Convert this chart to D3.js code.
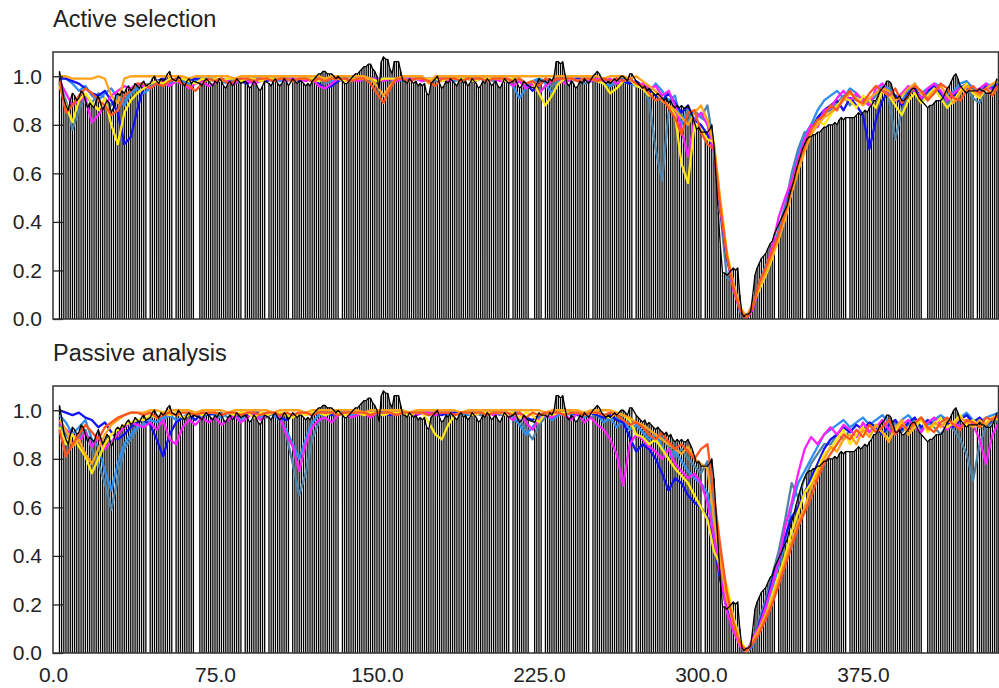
<!DOCTYPE html>
<html>
<head>
<meta charset="utf-8">
<script src="https://cdn.jsdelivr.net/npm/d3@7"></script>
<style>
  body { margin: 0; background: #fff; }
  svg { display: block; }
  text { font-family: "Liberation Sans", Arial, Helvetica, sans-serif; fill: #222; }
</style>
</head>
<body>
<svg id="chart" width="999" height="688"></svg>
<script>
// ---------- data (all values in hundredths) ----------
// reference profile: one value per position, starting at position 3
const profileStart = 3;
const profileValues = [
  102,97,91,88,86,90,93,92,
  90,91,94,93,90,87,89,88,87,90,
  92,89,86,88,90,89,85,87,92,93,
  92,94,93,95,96,94,95,97,96,95,
  97,98,96,95,97,99,100,98,97,99,
  98,99,101,102,99,97,98,100,99,97,
  96,98,99,97,98,100,99,97,96,98,
  99,98,97,96,98,97,99,98,96,95,
  97,98,96,97,99,98,97,96,98,97,
  95,96,98,97,95,94,96,98,99,97,
  96,98,99,97,96,97,99,98,96,97,
  99,98,97,98,98,97,96,97,96,98,
  99,100,101,101,102,102,101,101,101,100,
  99,100,99,98,97,97,98,99,100,101,
  101,102,103,104,104,105,105,103,102,100,
  95,106,108,107,107,103,101,106,106,106,
  102,98,98,97,99,98,97,98,96,97,
  96,97,93,92,97,98,99,100,97,95,
  96,98,97,99,98,97,96,98,99,97,
  98,96,97,99,98,97,95,96,98,97,
  99,98,96,97,98,96,95,97,99,98,
  97,96,98,99,97,95,96,98,97,96,
  98,97,95,97,99,98,96,98,97,99,
  98,100,106,106,105,106,101,97,96,98,
  97,95,96,98,97,99,98,97,99,100,
  101,102,101,99,98,97,98,97,98,99,
  98,99,100,100,99,98,101,101,99,98,
  97,96,95,96,94,95,94,93,92,93,
  92,91,90,91,89,90,88,87,88,87,
  88,87,87,88,86,84,81,78,79,77,
  78,77,77,78,80,72,58,44,30,19,
  19,18,19,20,21,20,21,10,2,1,
  2,2,3,10,18,21,23,25,26,27,
  29,31,32,35,37,39,41,43,45,47,
  51,54,57,61,64,67,70,73,74,75,
  75,76,76,77,77,78,79,79,80,80,
  80,81,80,82,83,82,83,84,83,83,
  83,84,85,84,85,86,85,87,88,90,
  90,92,94,95,96,98,98,97,94,91,
  91,92,90,90,91,92,94,95,95,93,
  91,90,89,88,87,88,88,89,90,90,
  90,91,93,95,96,98,100,101,99,96,
  95,94,93,94,94,94,93,94,95,94,
  94,93,93,93,94,96,99
];
// positions that carry no profile value
const profileGaps = [44,56,66,67,88,99,110,133,212,221,222,227,249,269,301,335,348,368,403,404,427];

// sampled positions of the coloured runs
const runX = d3.range(3, 439, 3);

const runColors = {
  steel: "#4f84a8", dodger: "#2f8ff0", blue: "#1212f5", magenta: "#ff22ff",
  yellow: "#ffe812", orange: "#ffa31a", red: "#ff5520"
};
const drawOrder = ["steel", "dodger", "blue", "magenta", "yellow", "orange", "red"];

// ---- Active selection ----
const activeBlue = [
  99,99,98,97,95,93,92,94,90,85,72,75,86,
  96,97,98,99,98,99,99,98,99,99,98,
  99,98,99,99,98,97,99,99,98,99,99,
  99,99,98,99,99,97,95,96,98,99,99,
  99,99,99,99,98,99,99,99,98,99,99,
  99,99,98,99,99,99,99,98,99,99,99,
  99,98,99,99,97,94,96,99,98,99,99,
  99,99,99,98,99,99,98,99,98,97,98,
  96,94,92,90,93,89,85,88,82,80,76,
  70,45,25,13,4,0,5,
  13,19,26,34,43,56,65,72,78,83,86,
  88,90,86,91,88,84,70,82,90,94,92,88,93,95,91,94,96,93,90,92,95,97,94,92,96,95,97
];
const activeDodger = [
  100,99,97,94,96,92,90,93,95,91,88,93,95,
  93,95,97,98,97,99,98,97,98,99,99,
  99,98,97,99,99,98,99,98,99,99,98,
  99,98,99,99,98,99,99,98,99,99,99,
  99,99,99,98,99,99,99,98,99,99,99,
  98,99,99,99,98,99,99,99,99,98,99,
  99,98,96,91,95,98,99,97,93,97,99,
  99,98,99,99,98,97,96,99,98,97,96,
  95,93,97,94,90,92,80,86,85,83,81,
  72,47,26,14,5,1,6,
  14,21,28,36,46,58,68,76,80,86,90,
  92,94,91,95,93,90,88,93,96,95,92,90,94,97,93,95,97,96,92,94,97,98,95,94,97,96,98
];
const activeSteel = [
  97,90,78,86,92,89,93,91,88,92,90,94,96,
  97,96,98,97,99,98,97,98,99,98,99,
  98,99,98,97,98,99,99,98,99,98,99,
  99,98,99,99,98,99,97,98,99,99,98,
  99,99,98,99,99,99,98,99,99,99,98,
  99,98,99,99,99,98,99,99,99,99,98,
  99,99,98,99,96,97,99,98,96,98,99,
  98,99,97,98,99,98,96,97,99,98,97,
  96,90,70,57,85,88,84,81,86,83,88,
  71,44,17,15,3,0,5,
  15,22,27,37,47,60,70,77,76,82,85,
  86,89,92,88,92,91,89,92,95,91,74,86,92,95,90,93,96,92,88,93,96,95,91,89,95,94,96
];
const activeMagenta = [
  98,93,88,90,91,81,84,88,92,94,96,95,97,
  96,95,97,98,96,98,97,95,97,98,96,
  97,99,98,97,99,98,97,98,99,98,99,
  98,99,99,98,99,96,95,97,99,98,99,
  98,99,99,99,98,99,98,99,99,99,98,
  99,99,99,98,99,99,99,98,99,99,99,
  98,99,96,98,95,97,93,96,98,99,97,
  99,98,99,98,99,98,99,97,98,99,96,
  97,95,96,92,94,88,78,67,82,85,80,
  69,46,27,12,4,0,4,
  14,20,30,42,50,57,66,74,80,79,86,
  87,91,94,90,93,90,88,95,97,92,90,93,96,94,91,95,97,94,90,93,95,96,93,95,97,94,96
];
const activeYellow = [
  96,88,81,90,93,89,86,91,80,72,85,90,93,
  95,97,98,97,99,98,99,98,97,99,98,
  99,98,99,99,98,99,99,98,99,99,99,
  99,98,99,99,99,98,99,99,99,98,99,
  99,99,99,98,99,99,99,99,98,99,99,
  99,99,98,99,99,99,99,98,99,99,99,
  99,98,99,99,97,98,93,88,92,97,99,
  99,98,99,99,98,97,93,95,98,99,96,
  95,92,94,90,88,84,64,56,80,78,74,
  73,48,28,14,5,1,6,
  12,18,25,33,42,53,62,70,77,82,80,
  84,88,91,90,87,92,90,87,94,92,88,84,90,93,89,92,95,91,87,90,94,97,93,91,95,93,96
];
const activeOrange = [
  100,100,99,99,99,99,100,99,92,89,99,100,100,
  100,100,100,100,100,100,100,99,100,100,100,
  100,100,100,99,100,100,100,100,100,100,100,
  100,100,100,100,100,100,99,100,100,100,100,
  100,100,99,96,92,96,99,100,100,100,100,
  97,100,100,100,100,100,100,100,100,100,100,
  100,100,100,100,100,100,100,100,100,100,100,
  100,100,100,100,100,99,100,100,100,99,100,
  98,96,94,90,88,86,83,80,85,88,82,
  72,49,27,15,5,1,6,
  13,19,26,33,41,52,61,69,76,80,83,
  85,87,90,93,91,88,91,93,95,94,90,92,95,97,93,91,94,96,92,89,93,96,94,92,95,97,98
];
const activeRed = [
  98,85,88,92,95,93,90,88,84,86,92,94,97,
  97,95,97,96,98,99,97,96,94,97,99,
  98,99,97,98,99,99,98,99,99,98,99,
  99,98,99,99,98,99,98,99,99,99,98,
  99,99,97,93,89,95,99,99,98,99,99,
  98,96,99,99,99,98,99,99,99,98,99,
  99,99,98,99,97,98,96,99,98,99,99,
  99,98,99,99,98,99,98,99,98,99,97,
  96,93,90,91,87,83,76,85,86,77,72,
  70,46,26,13,4,0,5,
  15,21,28,35,44,54,64,71,78,82,84,
  88,86,91,94,90,89,93,96,94,92,95,89,92,96,94,90,93,97,95,91,90,94,96,93,95,92,97
];

// ---- Passive analysis ----
const passiveBlue = [
  100,99,98,99,97,96,93,95,91,88,90,93,95,
  96,94,88,81,90,95,97,98,96,99,98,
  99,98,99,97,99,98,99,99,98,99,97,
  96,98,99,99,98,99,99,98,99,99,99,
  99,98,99,99,99,98,99,99,99,98,99,
  99,99,98,99,99,99,99,98,99,99,99,
  99,98,99,99,97,96,98,99,97,99,99,
  99,98,99,99,98,97,98,96,95,89,83,
  86,84,80,74,67,72,70,65,62,60,56,
  45,30,18,10,4,0,4,
  12,20,30,38,48,56,60,66,72,78,84,
  88,90,93,91,94,92,95,93,90,94,96,92,95,97,93,96,94,97,95,93,96,98,95,97,94,96,98
];
const passiveDodger = [
  98,95,90,93,96,88,85,75,67,78,86,90,93,
  94,96,95,97,98,96,97,99,98,97,99,
  98,97,99,98,96,99,98,97,99,98,96,
  92,86,80,88,95,98,99,98,99,99,98,
  99,99,98,99,99,98,99,99,99,98,99,
  98,99,99,98,99,99,98,99,99,98,99,
  99,99,97,94,90,93,97,99,96,98,99,
  98,99,97,99,98,95,97,93,96,92,94,
  91,88,90,85,80,83,79,75,72,70,66,
  52,34,20,11,3,0,3,
  10,18,26,36,46,60,70,75,80,85,90,
  92,94,96,93,95,97,94,96,98,95,93,96,98,95,97,94,96,98,96,94,97,99,96,95,97,98,99
];
const passiveSteel = [
  94,90,86,88,92,84,78,70,59,72,84,88,92,
  95,97,98,96,98,99,97,98,99,97,99,
  98,99,97,99,98,99,99,98,97,99,98,
  90,78,65,74,88,95,98,99,98,99,99,
  99,98,99,99,98,99,99,99,98,99,99,
  99,98,99,99,99,98,99,99,98,99,99,
  98,99,98,96,92,88,94,97,99,98,99,
  99,98,99,97,99,98,96,97,94,96,95,
  93,90,87,89,85,81,84,80,77,74,79,
  60,40,24,12,5,1,5,
  14,22,32,42,55,70,64,72,78,82,86,
  86,90,88,92,89,93,91,94,90,92,95,91,94,96,92,95,93,90,94,92,88,82,71,86,93,95,96
];
const passiveMagenta = [
  95,92,90,87,91,85,89,84,87,90,93,95,94,
  93,95,92,96,88,86,93,96,94,97,95,
  97,94,96,98,95,97,99,96,98,99,97,
  90,85,75,86,93,96,97,95,98,99,97,
  98,99,97,99,98,99,98,99,99,98,99,
  99,98,99,99,98,99,99,98,99,99,98,
  99,98,96,99,95,92,96,98,97,99,98,
  96,99,95,97,94,92,88,82,69,86,90,
  88,85,83,80,84,78,75,72,74,70,62,
  48,32,17,9,3,0,6,
  11,19,28,38,52,62,74,84,89,86,90,
  93,90,94,92,89,95,91,93,96,92,90,94,96,93,91,95,97,94,92,95,93,96,94,88,78,90,95
];
const passiveYellow = [
  93,86,90,85,81,74,80,86,90,92,94,95,96,
  96,98,97,99,98,99,97,98,99,98,99,
  99,98,99,98,99,99,97,99,98,99,99,
  98,97,99,98,99,99,98,99,99,98,99,
  99,98,99,99,98,99,99,99,98,99,99,
  95,90,88,94,98,99,99,98,99,99,99,
  99,98,99,97,99,98,95,99,98,99,99,
  99,99,98,99,99,98,97,99,98,96,90,
  89,86,88,84,80,76,73,70,65,60,55,
  42,36,28,15,6,1,4,
  9,15,24,32,40,50,58,66,70,76,82,
  84,88,92,86,90,93,89,94,91,88,92,95,90,93,96,91,94,97,93,95,98,94,96,93,95,97,96
];
const passiveOrange = [
  96,92,85,88,82,78,84,90,94,96,98,99,99,
  99,100,100,99,100,100,100,100,99,100,100,
  100,100,99,100,100,100,100,100,100,99,100,
  100,100,100,99,100,100,100,100,100,100,100,
  100,99,100,100,100,100,100,100,99,100,100,
  100,100,100,100,100,99,100,100,100,100,100,
  100,100,100,100,100,100,100,99,100,100,100,
  100,100,99,100,100,100,100,99,98,97,95,
  94,92,90,88,86,84,82,85,80,78,76,
  55,38,22,12,4,0,5,
  10,16,22,30,38,46,54,60,68,74,80,
  85,83,88,90,86,92,89,94,91,87,93,96,90,94,97,92,95,93,96,94,97,95,93,96,94,97,98
];
const passiveRed = [
  92,81,86,90,94,91,88,93,95,97,98,99,99,
  98,99,97,98,99,98,99,99,98,99,99,
  99,98,99,99,98,99,99,98,99,99,98,
  99,98,99,99,98,99,99,99,98,99,99,
  99,99,98,99,99,99,98,99,99,99,99,
  98,99,99,99,98,99,99,99,99,98,99,
  99,99,98,99,97,99,98,99,99,99,98,
  99,99,98,99,99,98,99,98,96,94,95,
  93,90,88,91,87,84,86,83,80,84,86,
  65,44,25,13,4,1,4,
  8,14,20,28,36,44,52,58,64,72,78,
  82,86,90,88,92,89,94,91,93,96,90,94,92,95,97,93,91,95,97,94,92,96,95,93,97,96,98
];

const xTicks = [0, 75, 150, 225, 300, 375];
const yTicks = [0, 0.2, 0.4, 0.6, 0.8, 1.0];

// ---------- layout ----------
const svg = d3.select("#chart");
const plotLeft = 53, plotRight = 998.5, panelH = 267;
const x = d3.scaleLinear().domain([0, 438]).range([plotLeft, 999]);
const fmt = d3.format(".1f");

const profile = profileValues
  .map((v, i) => ({ x: profileStart + i, v: v / 100 }))
  .filter(d => !profileGaps.includes(d.x));

function drawPanel(top, title, runs, withXAxis, id) {
  const y = d3.scaleLinear().domain([0, 1.1]).range([top + panelH, top]);
  const g = svg.append("g");

  g.append("text")
    .attr("x", plotLeft).attr("y", top - 25)
    .attr("font-size", 23.5)
    .text(title);

  g.append("clipPath").attr("id", id)
    .append("rect")
    .attr("x", plotLeft).attr("y", top)
    .attr("width", plotRight - plotLeft).attr("height", panelH);

  const plot = g.append("g").attr("clip-path", `url(#${id})`);

  // vertical bars of the reference profile
  plot.append("g")
    .selectAll("line").data(profile).join("line")
    .attr("x1", d => x(d.x)).attr("x2", d => x(d.x))
    .attr("y1", y(0)).attr("y2", d => y(d.v))
    .attr("stroke", "#000").attr("stroke-width", 1.3);

  // coloured runs
  const line = d3.line().x(d => x(d[0])).y(d => y(d[1]));
  drawOrder.forEach(key => {
    const pts = runX.map((px, i) => [px, runs[key][i] / 100]).filter(d => d[1] != null && !isNaN(d[1]));
    plot.append("path").datum(pts)
      .attr("d", line)
      .attr("fill", "none")
      .attr("stroke", runColors[key])
      .attr("stroke-width", 2.3)
      .attr("stroke-linejoin", "round");
  });

  // profile outline on top
  plot.append("path").datum(profile.map(d => [d.x, d.v]))
    .attr("d", line)
    .attr("fill", "none").attr("stroke", "#000")
    .attr("stroke-width", 1.3).attr("stroke-linejoin", "round");

  // y axis with inward ticks
  const ya = g.append("g").attr("transform", `translate(${plotLeft},0)`)
    .call(d3.axisLeft(y).tickValues(yTicks).tickFormat(fmt)
      .tickSizeInner(-10).tickSizeOuter(0).tickPadding(11));
  ya.select(".domain").remove();
  ya.selectAll(".tick line").attr("stroke", "#222").attr("stroke-width", 1.3);
  ya.selectAll("text").attr("font-size", 21).attr("font-family", null).attr("fill", "#222");

  if (withXAxis) {
    const xa = g.append("g").attr("transform", `translate(0,${top + panelH})`)
      .call(d3.axisBottom(x).tickValues(xTicks).tickFormat(fmt).tickSize(0).tickPadding(14));
    xa.select(".domain").remove();
    xa.selectAll("text").attr("font-size", 21).attr("font-family", null).attr("fill", "#222");
  }

  // frame
  g.append("rect")
    .attr("x", plotLeft).attr("y", top)
    .attr("width", plotRight - plotLeft).attr("height", panelH)
    .attr("fill", "none").attr("stroke", "#333").attr("stroke-width", 1.5);
}

drawPanel(52, "Active selection", {
  steel: activeSteel, dodger: activeDodger, blue: activeBlue, magenta: activeMagenta,
  yellow: activeYellow, orange: activeOrange, red: activeRed
}, false, "clip-active");

drawPanel(386, "Passive analysis", {
  steel: passiveSteel, dodger: passiveDodger, blue: passiveBlue, magenta: passiveMagenta,
  yellow: passiveYellow, orange: passiveOrange, red: passiveRed
}, true, "clip-passive");
</script>
</body>
</html>
